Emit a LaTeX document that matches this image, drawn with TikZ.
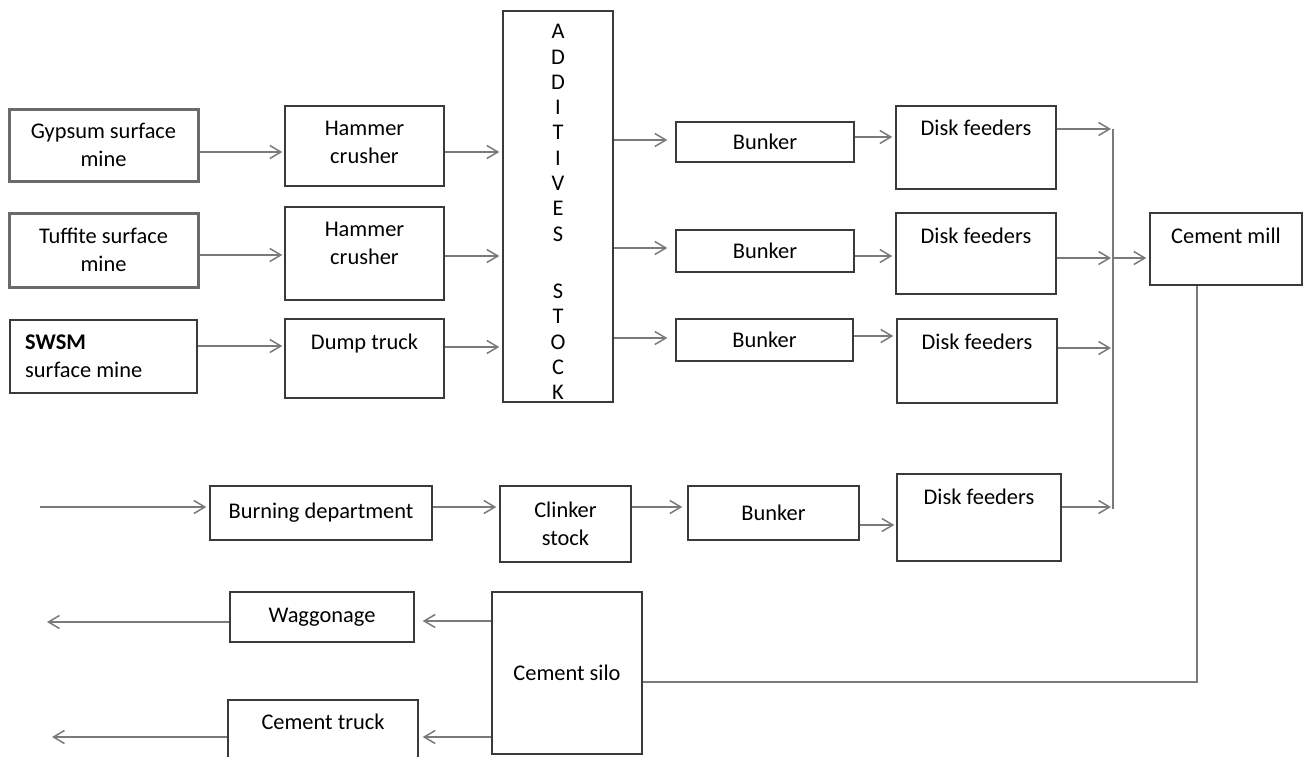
\documentclass[tikz,border=0pt]{standalone}
\usepackage{fontspec}
\setmainfont{Carlito}
\usetikzlibrary{arrows.meta}
\definecolor{boxline}{HTML}{3A3A3A}
\definecolor{arrline}{HTML}{7A7A7A}
\definecolor{thickline}{HTML}{6A6A6A}
\newcommand{\diagfont}{\fontsize{22.4}{28}\selectfont}
\tikzset{
  box/.style={draw=boxline, line width=1.4pt, inner sep=0pt, align=center, font=\diagfont},
  thickbox/.style={box, draw=thickline, line width=3pt},
  txt/.style={inner sep=0pt, align=center, font=\diagfont},
  stxt/.style={txt, text height=14.4pt, text depth=0pt},
  arr/.style={draw=arrline, line width=1.5pt, -{Straight Barb[length=11pt,width=13pt]}},
  conn/.style={draw=arrline, line width=1.5pt}
}
\begin{document}
\begin{tikzpicture}[x=1pt,y=-1pt]
\useasboundingbox (0,0) rectangle (1303,756);
% sources
\node[thickbox, minimum width=189pt, minimum height=72pt] (gyp) at (103.5,145) {Gypsum surface\\mine};
\node[thickbox, minimum width=189pt, minimum height=74pt] (tuf) at (103.5,250) {Tuffite surface\\mine};
\node[box, minimum width=187pt, minimum height=73pt] (swsm) at (103.5,356.5) {};
\node[txt, align=left, anchor=west] (swsmt) at (25,356.5) {\textbf{SWSM}\\surface mine};
% crushers
\node[box, minimum width=159pt, minimum height=80pt] (ham1) at (364.5,146) {};
\node[txt] (ham1t) at (364.5,142) {Hammer\\crusher};
\node[box, minimum width=159pt, minimum height=93pt] (ham2) at (364.5,253.5) {};
\node[txt] (ham2t) at (364.5,243) {Hammer\\crusher};
\node[box, minimum width=159pt, minimum height=79pt] (dump) at (364.5,358.5) {};
\node[stxt] (dumpt) at (364.5,342) {Dump truck};
% additives stock
\node[box, minimum width=110pt, minimum height=391pt] (add) at (558,206.5) {};
\node[txt, font=\fontsize{22.4}{25.3}\selectfont] (addt) at (558,212) {A\\D\\D\\I\\T\\I\\V\\E\\S\\[32pt]S\\T\\O\\C\\K};
% bunkers
\node[box, minimum width=178pt, minimum height=40pt] (bun1) at (765,142) {Bunker};
\node[box, minimum width=178pt, minimum height=42pt] (bun2) at (765,251) {Bunker};
\node[box, minimum width=177pt, minimum height=42pt] (bun3) at (764.5,340) {Bunker};
\node[box, minimum width=171pt, minimum height=54pt] (bun4) at (773.5,513) {Bunker};
% disk feeders
\node[box, minimum width=160pt, minimum height=83pt] (disk1) at (976,147.5) {};
\node[stxt] (disk1t) at (976,128) {Disk feeders};
\node[box, minimum width=160pt, minimum height=81pt] (disk2) at (976,253.5) {};
\node[stxt] (disk2t) at (976,236) {Disk feeders};
\node[box, minimum width=160pt, minimum height=84pt] (disk3) at (977,361) {};
\node[stxt] (disk3t) at (977,342) {Disk feeders};
\node[box, minimum width=164pt, minimum height=87pt] (disk4) at (979,517.5) {};
\node[stxt] (disk4t) at (979,497) {Disk feeders};
% cement mill
\node[box, minimum width=152pt, minimum height=72pt] (mill) at (1226,249) {};
\node[stxt] (millt) at (1226,236) {Cement mill};
% clinker line
\node[box, minimum width=222pt, minimum height=54pt] (burn) at (321,513) {Burning department};
\node[box, minimum width=131pt, minimum height=76pt] (clink) at (565.5,524) {Clinker\\stock};
% dispatch
\node[box, minimum width=150pt, minimum height=162pt] (silo) at (567,673) {Cement silo};
\node[box, minimum width=184pt, minimum height=50pt] (wagg) at (322,617) {Waggonage};
\node[box, minimum width=190pt, minimum height=80pt] (truck) at (323,740) {};
\node[stxt] (truckt) at (323,722) {Cement truck};
% free ends and merge line
\coordinate (inp) at (40,507);
\coordinate (outw) at (47,622);
\coordinate (outt) at (52,737);
\coordinate (mtop) at (1113,129);
\coordinate (mmid) at (1113,258);
\coordinate (m3) at (1113,348);
\coordinate (m4) at (1113,507);
\coordinate (mbot) at (1113,509);
% arrows: sources -> crushers
\draw[arr, shorten >=2pt] ([yshift=-7pt]gyp.east) -- ([yshift=-6pt]ham1.west);
\draw[arr, shorten >=2pt] ([yshift=-5pt]tuf.east) -- ([yshift=-1.5pt]ham2.west);
\draw[arr, shorten >=2pt] ([yshift=10.5pt]swsm.east) -- ([yshift=12.5pt]dump.west);
% crushers -> additives
\draw[arr, shorten >=3pt] ([yshift=-6pt]ham1.east) -- ([yshift=54.5pt]add.west);
\draw[arr, shorten >=3pt] ([yshift=-2.5pt]ham2.east) -- ([yshift=-49.5pt]add.west);
\draw[arr, shorten >=3pt] ([yshift=11.5pt]dump.east) -- ([yshift=-140.5pt]add.west);
% additives -> bunkers
\draw[arr, shorten >=8pt] ([yshift=66.5pt]add.east) -- ([yshift=2pt]bun1.west);
\draw[arr, shorten >=8pt] ([yshift=-41.5pt]add.east) -- ([yshift=3pt]bun2.west);
\draw[arr, shorten >=8pt] ([yshift=-131.5pt]add.east) -- ([yshift=2pt]bun3.west);
% bunkers -> disk feeders
\draw[arr, shorten >=3pt] ([yshift=5pt]bun1.east) -- ([yshift=10.5pt]disk1.west);
\draw[arr, shorten >=3pt] ([yshift=-5pt]bun2.east) -- ([yshift=-2.5pt]disk2.west);
\draw[arr, shorten >=3pt] ([yshift=4pt]bun3.east) -- ([yshift=25pt]disk3.west);
\draw[arr, shorten >=2pt] ([yshift=-12pt]bun4.east) -- ([yshift=-7.5pt]disk4.west);
% disk feeders -> merge line -> mill
\draw[arr, shorten >=2pt] ([yshift=18.5pt]disk1.east) -- (mtop);
\draw[arr, shorten >=2pt] ([yshift=-4.5pt]disk2.east) -- (mmid);
\draw[arr, shorten >=2pt] ([yshift=13pt]disk3.east) -- (m3);
\draw[arr, shorten >=2pt] ([yshift=10.5pt]disk4.east) -- (m4);
\draw[conn] (mtop) -- (mbot);
\draw[arr, shorten >=3pt] (mmid) -- ([yshift=-9pt]mill.west);
% clinker line
\draw[arr, shorten >=3pt] (inp) -- ([yshift=6pt]burn.west);
\draw[arr, shorten >=3pt] ([yshift=6pt]burn.east) -- ([yshift=17pt]clink.west);
\draw[arr, shorten >=5pt] ([yshift=17pt]clink.east) -- ([yshift=6pt]bun4.west);
% mill -> silo
\draw[conn] ([xshift=-29pt]mill.south) |- ([yshift=-9pt]silo.east);
% dispatch
\draw[arr, shorten >=8pt] ([yshift=52pt]silo.west) -- ([yshift=-4pt]wagg.east);
\draw[arr, shorten >=4pt] ([yshift=-64pt]silo.west) -- ([yshift=3pt]truck.east);
\draw[arr] ([yshift=-5pt]wagg.west) -- (outw);
\draw[arr] ([yshift=3pt]truck.west) -- (outt);
\end{tikzpicture}
\end{document}
